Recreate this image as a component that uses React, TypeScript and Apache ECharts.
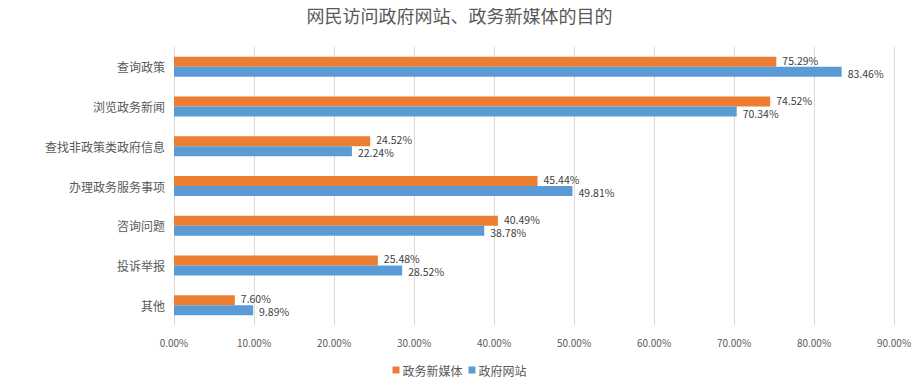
import React, { useEffect, useRef } from "react";
import * as echarts from "echarts";

const titleText = "网民访问政府网站、政务新媒体的目的";
const categories = [
  "查询政策",
  "浏览政务新闻",
  "查找非政策类政府信息",
  "办理政务服务事项",
  "咨询问题",
  "投诉举报",
  "其他",
];
const seriesNames = ["政务新媒体", "政府网站"];
const newMediaValues = [75.29, 74.52, 24.52, 45.44, 40.49, 25.48, 7.6];
const govSiteValues = [83.46, 70.34, 22.24, 49.81, 38.78, 28.52, 9.89];
const colors = ["#ED7D31", "#5B9BD5"];

export default function App() {
  const ref = useRef<HTMLDivElement>(null);
  useEffect(() => {
    if (!ref.current) return;
    const chart = echarts.init(ref.current, null, { renderer: "svg" });
    const font = "'Noto Sans CJK SC', 'Noto Sans', sans-serif";
    const labelCfg = (dy: number) => ({
      show: true,
      position: "right" as const,
      distance: 6,
      offset: [0, dy],
      color: "#404040",
      fontSize: 10.5,
      lineHeight: 11,
      fontFamily: font,
      formatter: (p: any) => Number(p.value).toFixed(2) + "%",
    });
    chart.setOption({
      animation: false,
      title: {
        text: titleText,
        left: "center",
        top: 1,
        textStyle: {
          color: "#595959",
          fontSize: 18,
          fontWeight: "normal",
          fontFamily: font,
        },
      },
      legend: {
        data: seriesNames,
        bottom: 4,
        left: "center",
        itemWidth: 7,
        itemHeight: 7,
        itemGap: 6,
        icon: "rect",
        textStyle: { color: "#595959", fontSize: 12, fontFamily: font, padding: [0, 0, 0, -2] },
      },
      grid: { left: 174, right: 25, top: 47, bottom: 60, containLabel: false },
      xAxis: {
        type: "value",
        min: 0,
        max: 90,
        interval: 10,
        axisLine: { show: false },
        axisTick: { show: false },
        splitLine: { lineStyle: { color: "#D9D9D9", width: 1 } },
        axisLabel: {
          color: "#595959",
          fontSize: 10,
          fontFamily: font,
          margin: 12,
          formatter: (v: number) => v.toFixed(2) + "%",
        },
      },
      yAxis: {
        type: "category",
        data: categories,
        inverse: true,
        axisLine: { show: false },
        axisTick: { show: false },
        axisLabel: { color: "#595959", fontSize: 12, fontFamily: font, margin: 9 },
      },
      series: [
        {
          name: seriesNames[0],
          type: "bar",
          data: newMediaValues,
          barWidth: 10,
          barGap: "0%",
          itemStyle: { color: colors[0] },
          label: labelCfg(-1.5),
        },
        {
          name: seriesNames[1],
          type: "bar",
          data: govSiteValues,
          barWidth: 10,
          barGap: "0%",
          itemStyle: { color: colors[1] },
          label: labelCfg(1.5),
        },
      ],
    });
    return () => chart.dispose();
  }, []);
  return <div ref={ref} style={{ width: 919, height: 385, margin: -8 }} />;
}
